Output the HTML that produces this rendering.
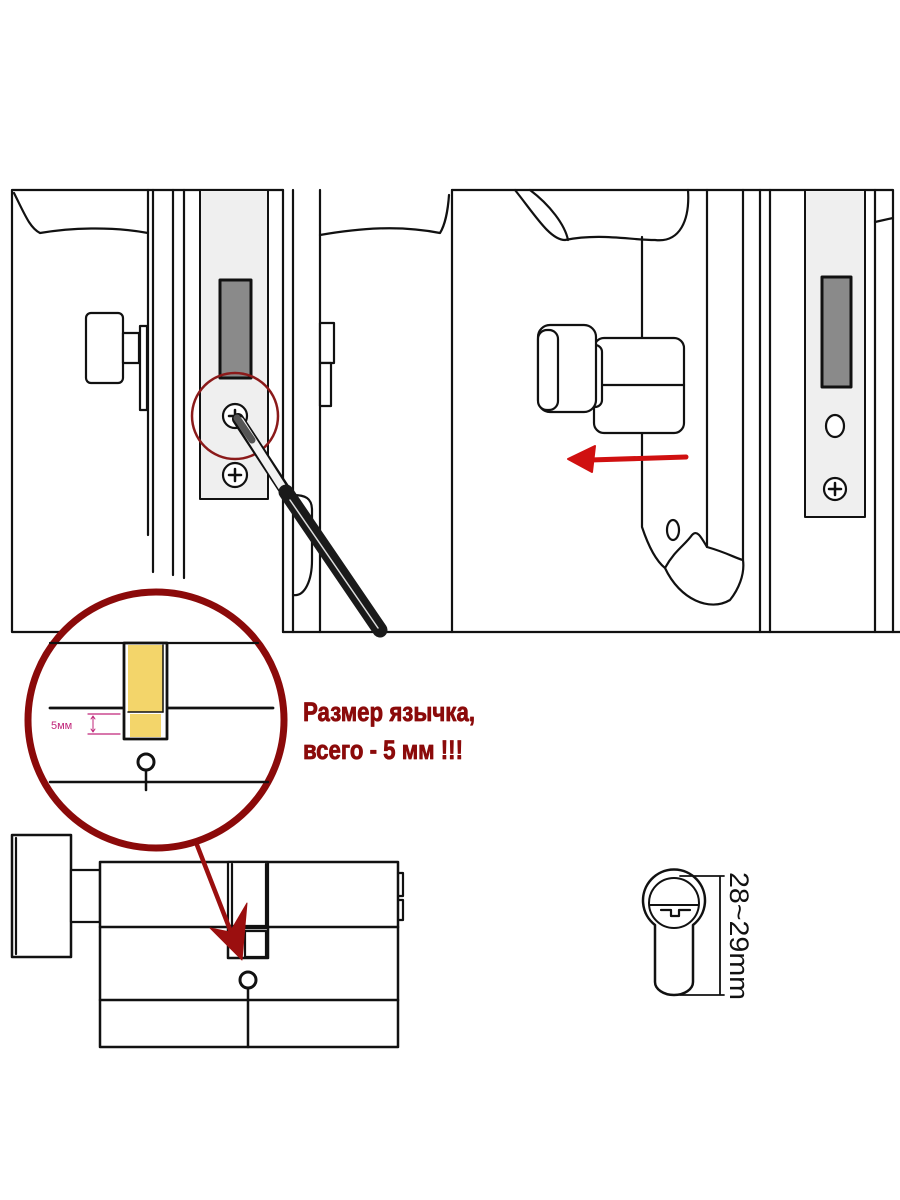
<!DOCTYPE html>
<html><head><meta charset="utf-8"><style>
html,body{margin:0;padding:0;background:#fff;width:900px;height:1200px;overflow:hidden}
svg{display:block}
</style></head><body>
<svg width="900" height="1200" viewBox="0 0 900 1200" xmlns="http://www.w3.org/2000/svg" fill="none" stroke="#111" stroke-width="2.2" stroke-linecap="round" stroke-linejoin="round">
<!-- LEFT top panel -->
<path d="M12 190 H283 M12 190 V632 H60"/>
<path d="M14 193 C25 215 30 228 40 233 C70 228 110 226 148 233"/>
<line x1="148" y1="190" x2="148" y2="535"/>
<line x1="153" y1="190" x2="153" y2="572"/>
<line x1="173" y1="190" x2="173" y2="575"/>
<line x1="184" y1="190" x2="184" y2="578"/>
<!-- strike plate -->
<rect x="200" y="190" width="68" height="309" fill="#efefef" stroke-width="2"/>
<rect x="220" y="280" width="31" height="98" fill="#8a8a8a" stroke-width="3"/>
<circle cx="235" cy="416" r="12" fill="#fff"/>
<path d="M229 416 H241 M235 410 V422" stroke-width="2.5"/>
<circle cx="235" cy="475" r="12" fill="#fff"/>
<path d="M229 475 H241 M235 469 V481" stroke-width="2.5"/>
<circle cx="235" cy="416" r="43" stroke="#8b1a1a" stroke-width="2.5"/>
<!-- left knob -->
<rect x="86" y="313" width="37" height="70" rx="5" fill="#fff"/>
<rect x="123" y="333" width="16" height="30" fill="#fff"/>
<rect x="140" y="326" width="7" height="84" fill="#fff"/>
<!-- middle door -->
<line x1="283" y1="190" x2="283" y2="632"/>
<line x1="293" y1="190" x2="293" y2="632"/>
<line x1="320" y1="190" x2="320" y2="632"/>
<path d="M283 632 H900"/>
<path d="M320 235 C360 228 400 225 440 233 C445 225 448 210 449 195"/>
<rect x="320" y="323" width="14" height="40" fill="#fff"/>
<rect x="320" y="363" width="11" height="43" fill="#fff"/>
<path d="M293 595 C305 597 312 580 312 560 V510 C312 498 305 495 293 495"/>
<!-- screwdriver -->
<path d="M238 419 L286 492" stroke-width="12" stroke="#111"/>
<path d="M240 421 L284 490" stroke-width="8" stroke="#f2f2f2"/>
<path d="M237 418 L252 440" stroke-width="7" stroke="#555"/>
<path d="M286 492 L380 630" stroke-width="15" stroke="#1a1a1a"/>
<path d="M290 500 L378 628" stroke-width="1.5" stroke="#ddd"/>
<!-- RIGHT top panel -->
<line x1="452" y1="190" x2="452" y2="632"/>
<path d="M452 190 H893 V632"/>
<path d="M515 190 C535 215 550 240 565 240 C600 233 630 240 655 240 C680 243 690 220 688 190"/>
<path d="M530 190 C550 205 565 225 568 240"/>
<path d="M642 237 V527 C648 545 655 560 665 568 C680 600 710 612 730 600 C738 590 745 575 743 560 C735 558 728 553 707 547 C700 535 697 530 692 535 C685 545 675 550 665 568"/>
<path d="M707 190 V547 M743 190 V560"/>
<ellipse cx="673" cy="530" rx="6" ry="10"/>
<line x1="760" y1="190" x2="760" y2="632"/>
<line x1="770" y1="190" x2="770" y2="632"/>
<rect x="805" y="190" width="60" height="327" fill="#efefef" stroke-width="2"/>
<rect x="822" y="277" width="29" height="110" fill="#8a8a8a" stroke-width="3"/>
<ellipse cx="835" cy="426" rx="9" ry="11" fill="#fff"/>
<circle cx="835" cy="489" r="11" fill="#fff"/>
<path d="M829 489 H841 M835 483 V495" stroke-width="2.5"/>
<line x1="875" y1="190" x2="875" y2="632"/>
<path d="M875 222 L893 218"/>
<!-- cylinder in door -->
<rect x="594" y="338" width="90" height="95" rx="10" fill="#fff"/>
<line x1="594" y1="385" x2="684" y2="385"/>
<rect x="588" y="345" width="14" height="62" rx="7" fill="#fff"/>
<rect x="538" y="325" width="58" height="87" rx="12" fill="#fff"/>
<rect x="538" y="330" width="20" height="80" rx="9" fill="#fff"/>
<!-- red arrow -->
<path d="M686 457 L590 460" stroke="#d01010" stroke-width="5"/>
<path d="M568 459 L595 446 L592 472 Z" fill="#d01010" stroke="#d01010" stroke-width="2"/>
<!-- BOTTOM cylinder -->
<rect x="12" y="835" width="59" height="122" fill="#fff" stroke-width="2.5"/>
<line x1="16" y1="838" x2="16" y2="954"/>
<rect x="71" y="870" width="29" height="52" fill="#fff"/>
<rect x="100" y="862" width="298" height="185" fill="#fff" stroke-width="2.5"/>
<line x1="100" y1="927" x2="398" y2="927" stroke-width="2.5"/>
<line x1="100" y1="1000" x2="398" y2="1000" stroke-width="2.5"/>
<line x1="248" y1="988" x2="248" y2="1047" stroke-width="2.5"/>
<rect x="228" y="862" width="40" height="64" fill="#fff"/>
<line x1="232" y1="864" x2="232" y2="925"/>
<line x1="266" y1="864" x2="266" y2="925"/>
<rect x="228" y="928" width="40" height="30" fill="#fff" stroke-width="2.5"/>
<rect x="245" y="931" width="21" height="26" fill="#fff"/>
<circle cx="248" cy="980" r="8" stroke-width="3"/>
<path d="M398 873 H403 V896 H398 M398 900 H403 V920 H398"/>
<!-- red arrow to cylinder -->
<path d="M197 845 L236 945" stroke="#9b0f0f" stroke-width="4.5"/>
<path d="M242 960 L210 928 L230 932 L247 903 Z" fill="#9b0f0f" stroke="#9b0f0f" stroke-width="1"/>
<!-- magnifier circle -->
<circle cx="156" cy="720" r="128" fill="#fff" stroke="#8b0a0a" stroke-width="7"/>
<line x1="50" y1="643" x2="258" y2="643"/>
<line x1="50" y1="708" x2="273" y2="708" stroke-width="2.8"/>
<line x1="50" y1="782" x2="268" y2="782" stroke-width="2.5"/>
<rect x="124" y="643" width="43" height="96" fill="#fff" stroke-width="2.8"/>
<rect x="128" y="645" width="35" height="67" fill="#f3d56a" stroke="none"/>
<line x1="163" y1="645" x2="163" y2="712" stroke-width="1.5"/>
<line x1="128" y1="712" x2="163" y2="712" stroke-width="1.5"/>
<rect x="130" y="714" width="31" height="23" fill="#f3d56a" stroke="none"/>
<circle cx="146" cy="762" r="8" stroke-width="3"/>
<line x1="146" y1="770" x2="146" y2="790" stroke-width="2.5"/>
<path d="M88 714 H120 M88 734 H120" stroke="#c0267a" stroke-width="1.2"/>
<path d="M93 716 V732 M91 719 L93 716 L95 719 M91 729 L93 732 L95 729" stroke="#c0267a" stroke-width="1"/>
<text x="51" y="729" font-family="Liberation Sans, sans-serif" font-size="11" fill="#c0267a" stroke="none">5мм</text>
<!-- label -->
<text x="303" y="721" font-family="Liberation Sans, sans-serif" font-weight="bold" font-size="27" fill="#8b0a0a" stroke="#8b0a0a" stroke-width="0.8" textLength="172" lengthAdjust="spacingAndGlyphs">Размер язычка,</text>
<text x="303" y="759" font-family="Liberation Sans, sans-serif" font-weight="bold" font-size="27" fill="#8b0a0a" stroke="#8b0a0a" stroke-width="0.8" textLength="160" lengthAdjust="spacingAndGlyphs">всего - 5 мм !!!</text>
<!-- keyhole profile -->
<path d="M655 925 A31 31 0 1 1 693 925 V982 A19 13 0 0 1 655 982 Z" stroke-width="2.5"/>
<circle cx="674" cy="903" r="25" stroke-width="2"/>
<path d="M650 905 H698" stroke-width="2"/>
<path d="M661 910 H671 V916 H679 V910 H690"/>
<path d="M680 876 H724 M680 995 H724 M720 876 V995" stroke-width="1.8"/>
<text transform="translate(730,872) rotate(90)" font-family="Liberation Sans, sans-serif" font-size="27" fill="#111" stroke="none" textLength="128" lengthAdjust="spacingAndGlyphs">28~29mm</text>
</svg>
</body></html>
